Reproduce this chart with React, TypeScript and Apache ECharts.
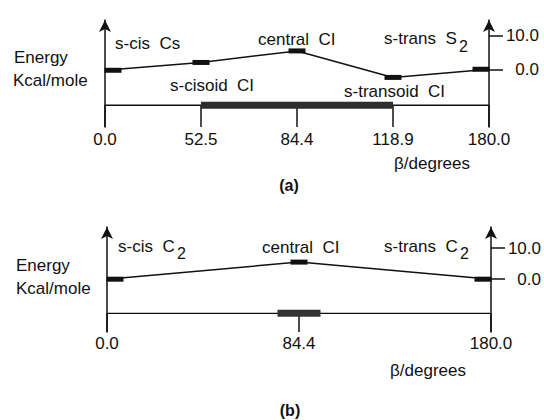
import React, { useEffect, useRef } from 'react';
import * as echarts from 'echarts';

// ---- data ----
const anglesA = ['0.0', '52.5', '84.4', '118.9', '180.0'];
const energyA = [-0.3, 2.0, 5.4, -2.4, 0.0];
const anglesB = ['0.0', '84.4', '180.0'];
const energyB = [0.0, 5.5, 0.0];
const energyTicks = [0, 10];
const bandRangeA = ['52.5', '118.9'];
const bandCentreB = ['84.4'];
const baselineA = -10.6;
const baselineB = -11.0;

const FONT = '"Liberation Sans", Arial, Helvetica, sans-serif';
const INK = '#111';

function endOffsets(n: number, off: number) {
  return (i: number) => (i === 0 ? [off, 0] : i === n - 1 ? [-off, 0] : [0, 0]);
}

function txt(text: string, x: number, y: number, opts: any = {}) {
  return {
    type: 'text',
    x,
    y,
    silent: true,
    style: {
      text,
      fill: INK,
      font: `${opts.bold ? 'bold ' : ''}${opts.size || 17}px ${FONT}`,
      align: opts.align || 'left',
      verticalAlign: 'middle',
    },
  };
}

export default function App() {
  const ref = useRef<HTMLDivElement>(null);

  useEffect(() => {
    if (!ref.current) return;
    const chart = echarts.init(ref.current, undefined, { renderer: 'svg' });

    const offA = endOffsets(energyA.length, 8);
    const offB = endOffsets(energyB.length, 8);

    const xAxisBase = (gridIndex: number, data: string[], tickLen: number, margin: number) => ({
      type: 'category',
      gridIndex,
      data,
      boundaryGap: false,
      axisLine: { show: false, onZero: false },
      axisTick: { show: true, inside: true, length: tickLen, interval: 0, lineStyle: { color: INK, width: 1.5 } },
      axisLabel: { show: true, interval: 0, margin, color: INK, fontSize: 17, fontFamily: FONT },
      splitLine: { show: false },
    });

    const yLeft = (gridIndex: number, min: number, max: number) => ({
      type: 'value',
      gridIndex,
      position: 'left',
      min,
      max,
      axisLine: {
        show: true,
        onZero: false,
        symbol: ['none', 'arrow'],
        symbolSize: [9, 12],
        lineStyle: { color: INK, width: 1.5 },
      },
      axisTick: { show: false },
      axisLabel: { show: false },
      splitLine: { show: false },
    });

    const yRight = (gridIndex: number, min: number, max: number) => ({
      type: 'value',
      gridIndex,
      position: 'right',
      min,
      max,
      axisLine: {
        show: true,
        onZero: false,
        symbol: ['none', 'arrow'],
        symbolSize: [9, 12],
        lineStyle: { color: INK, width: 1.5 },
      },
      axisTick: { show: true, customValues: energyTicks, length: 14, lineStyle: { color: INK, width: 1.5 } },
      axisLabel: {
        show: true,
        customValues: energyTicks,
        formatter: (v: number) => v.toFixed(1),
        align: 'right',
        margin: 50,
        color: INK,
        fontSize: 17,
        fontFamily: FONT,
      },
      splitLine: { show: false },
    });

    const option: any = {
      animation: false,
      backgroundColor: '#fff',
      grid: [
        { left: 105, right: 55, top: 20, height: 107 },
        { left: 107, right: 52, top: 227, height: 105 },
      ],
      xAxis: [xAxisBase(0, anglesA, 22, 4), xAxisBase(1, anglesB, 19, 3)],
      yAxis: [yLeft(0, -17, 14.5), yRight(0, -17, 14.5), yLeft(1, -17, 16.8), yRight(1, -17, 16.8)],
      series: [
        // panel (a)
        {
          type: 'line',
          xAxisIndex: 0,
          yAxisIndex: 0,
          data: [[anglesA[0], baselineA], [anglesA[anglesA.length - 1], baselineA]],
          symbol: 'none',
          lineStyle: { color: INK, width: 1.3 },
          z: 2,
        },
        {
          type: 'line',
          xAxisIndex: 0,
          yAxisIndex: 0,
          data: bandRangeA.map((a) => [a, baselineA]),
          symbol: 'none',
          lineStyle: { color: '#2e2e2e', width: 7 },
          z: 3,
        },
        {
          type: 'line',
          xAxisIndex: 0,
          yAxisIndex: 0,
          data: energyA.map((v, i) => ({ value: [anglesA[i], v], symbolOffset: offA(i) })),
          symbol: 'rect',
          symbolSize: [17, 5],
          showSymbol: true,
          itemStyle: { color: INK },
          lineStyle: { color: INK, width: 1.5 },
          z: 4,
        },
        // panel (b)
        {
          type: 'line',
          xAxisIndex: 1,
          yAxisIndex: 2,
          data: [[anglesB[0], baselineB], [anglesB[anglesB.length - 1], baselineB]],
          symbol: 'none',
          lineStyle: { color: INK, width: 1.3 },
          z: 2,
        },
        {
          type: 'scatter',
          xAxisIndex: 1,
          yAxisIndex: 2,
          data: bandCentreB.map((a) => [a, baselineB]),
          symbol: 'rect',
          symbolSize: [43, 7],
          itemStyle: { color: '#333', opacity: 1 },
          z: 3,
        },
        {
          type: 'line',
          xAxisIndex: 1,
          yAxisIndex: 2,
          data: energyB.map((v, i) => ({ value: [anglesB[i], v], symbolOffset: offB(i) })),
          symbol: 'rect',
          symbolSize: [17, 5],
          showSymbol: true,
          itemStyle: { color: INK },
          lineStyle: { color: INK, width: 1.5 },
          z: 4,
        },
      ],
      graphic: [
        // panel (a)
        txt('Energy', 14, 57),
        txt('Kcal/mole', 13, 80),
        txt('s-cis  Cs', 115, 43),
        txt('central  CI', 258, 39),
        txt('s-trans  S', 384, 38),
        txt('2', 459, 46, { size: 16 }),
        txt('s-cisoid  CI', 170, 85),
        txt('s-transoid  CI', 344, 91),
        txt('β/degrees', 432, 163, { align: 'center' }),
        txt('(a)', 289, 185, { bold: true, align: 'center', size: 16 }),
        // panel (b)
        txt('Energy', 16, 265),
        txt('Kcal/mole', 16, 288),
        txt('s-cis  C', 118, 246),
        txt('2', 177, 253, { size: 16 }),
        txt('central  CI', 262, 247),
        txt('s-trans  C', 384, 246),
        txt('2', 460, 253, { size: 16 }),
        txt('β/degrees', 428, 370, { align: 'center' }),
        txt('(b)', 290, 410, { bold: true, align: 'center', size: 16 }),
      ],
    };

    chart.setOption(option);
    return () => chart.dispose();
  }, []);

  return (
    <div
      ref={ref}
      style={{ position: 'fixed', left: 0, top: 0, width: 544, height: 420, background: '#fff' }}
    />
  );
}
